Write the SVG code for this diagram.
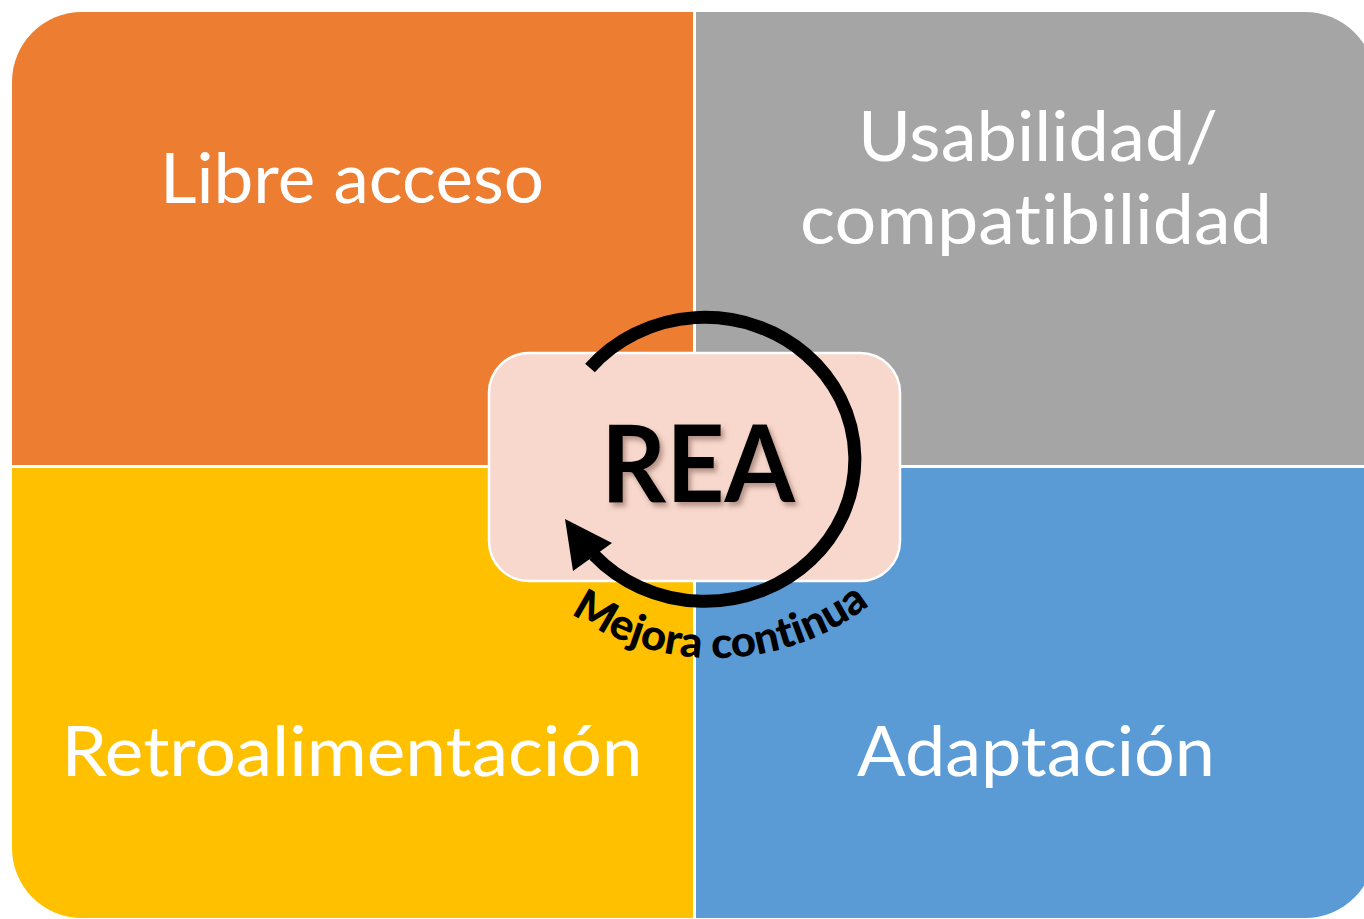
<svg xmlns="http://www.w3.org/2000/svg" xmlns:xlink="http://www.w3.org/1999/xlink" width="1364" height="919" viewBox="0 0 1364 919">
  <style>
    text { font-variant-ligatures: none; font-feature-settings: "liga" 0, "clig" 0; }
    .lbl { font-family: Lato, "Open Sans", "Liberation Sans", sans-serif; font-size: 70px; fill: #FFFFFF; text-anchor: middle; }
    .rea { font-family: Lato, "Liberation Sans", sans-serif; font-weight: bold; font-size: 107px; fill: #000000; text-anchor: middle; }
    .mej { font-family: Lato, "Liberation Sans", sans-serif; font-weight: 900; font-size: 43px; fill: #000000; }
  </style>
  <defs>
    <filter id="shadow" x="-20%" y="-20%" width="140%" height="150%">
      <feDropShadow dx="3" dy="4" stdDeviation="2.5" flood-color="#7a5a50" flood-opacity="0.55"/>
    </filter>
    <path id="mejPath" d="M 462 405 A 253 253 0 0 0 968 405"/>
  </defs>
  <rect width="1364" height="919" fill="#FFFFFF"/>

  <g id="libre-acceso">
    <path d="M12,82 A70,70 0 0 1 82,12 H693 V465 H12 Z" fill="#ED7D31"/>
    <text class="lbl" x="352" y="203" textLength="384" lengthAdjust="spacingAndGlyphs">Libre acceso</text>
  </g>
  <g id="usabilidad">
    <path d="M696,12 H1305 A70,70 0 0 1 1375,82 V465 H696 Z" fill="#A5A5A5"/>
    <text class="lbl" x="1038" y="161" textLength="360" lengthAdjust="spacingAndGlyphs">Usabilidad/</text>
    <text class="lbl" x="1036" y="244" textLength="472" lengthAdjust="spacingAndGlyphs">compatibilidad</text>
  </g>
  <g id="retroalimentacion">
    <path d="M12,468 H693 V918 H82 A70,70 0 0 1 12,848 Z" fill="#FFC000"/>
    <text class="lbl" x="352" y="776" textLength="581" lengthAdjust="spacingAndGlyphs">Retroalimentación</text>
  </g>
  <g id="adaptacion">
    <path d="M696,468 H1375 V848 A70,70 0 0 1 1305,918 H696 Z" fill="#5B9BD5"/>
    <text class="lbl" x="1036" y="776" textLength="358" lengthAdjust="spacingAndGlyphs">Adaptación</text>
  </g>

  <g id="rea">
    <rect x="489" y="353" width="411" height="228" rx="40" ry="40" fill="#F8D7CC" stroke="#FFFFFF" stroke-width="2.5"/>
    <text class="rea" x="698" y="502" textLength="194" lengthAdjust="spacingAndGlyphs" filter="url(#shadow)">REA</text>
  </g>

  <g id="connectors">
    <path d="M 590 368 A 150 142 0 1 1 594 555" fill="none" stroke="#000000" stroke-width="13"/>
    <polygon points="565,519 573,571 612,543" fill="#000000"/>
    <text class="mej"><textPath xlink:href="#mejPath" href="#mejPath" startOffset="404" text-anchor="middle" textLength="320" lengthAdjust="spacingAndGlyphs">Mejora continua</textPath></text>
  </g>
</svg>
